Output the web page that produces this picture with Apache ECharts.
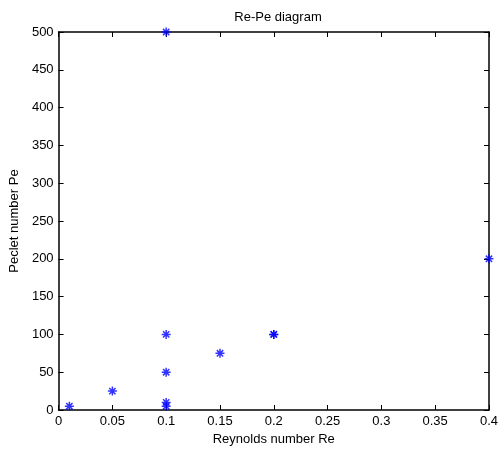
<!DOCTYPE html>
<html>
<head>
<meta charset="utf-8">
<script src="https://cdn.jsdelivr.net/npm/echarts@6/dist/echarts.min.js"></script>
<style>
  html, body { margin: 0; padding: 0; background: #fff; }
  #chart { width: 501px; height: 451px; }
</style>
</head>
<body>
<div id="chart"></div>
<script>
// Measured flow conditions: Reynolds number vs Peclet number
const reynolds = [0.01, 0.05, 0.1, 0.1, 0.1, 0.1, 0.1, 0.15, 0.2, 0.2, 0.4];
const peclet   = [5,    25,   500, 100, 50,  10,  5,   75,   100, 100, 200];

const xTicks = { min: 0, max: 0.4, interval: 0.05 };
const yTicks = { min: 0, max: 500, interval: 50 };

const FONT = 'Liberation Sans, Arial, sans-serif';
const BLUE = '#0000ff';

// asterisk marker drawn as stroked path
const starPath = 'path://M0 5 L10 5 M5 0 L5 10 M1.5 1.5 L8.5 8.5 M8.5 1.5 L1.5 8.5';

const points = reynolds.map((r, i) => [r, peclet[i]]);

const axisBase = {
  axisLine: { show: true, onZero: false, lineStyle: { color: '#000', width: 1.5 } },
  axisTick: { show: true, inside: true, length: 5, lineStyle: { color: '#000', width: 1 } },
  splitLine: { show: false },
  axisLabel: { color: '#000', fontFamily: FONT, fontSize: 13 }
};

const chart = echarts.init(document.getElementById('chart'), null, { renderer: 'canvas' });
chart.setOption({
  animation: false,
  backgroundColor: '#fff',
  title: {
    text: 'Re-Pe diagram',
    left: 273,
    top: 6,
    textAlign: 'center',
    textStyle: { color: '#000', fontFamily: FONT, fontSize: 13, fontWeight: 'normal' }
  },
  grid: { left: 56, right: 9, top: 32, bottom: 39, containLabel: false },
  xAxis: [
    Object.assign({}, axisBase, {
      type: 'value', position: 'bottom',
      min: xTicks.min, max: xTicks.max, interval: xTicks.interval,
      name: 'Reynolds number Re', nameLocation: 'middle', nameGap: 23,
      nameTextStyle: { color: '#000', fontFamily: FONT, fontSize: 13 },
      axisLabel: Object.assign({}, axisBase.axisLabel, { margin: 5, formatter: v => String(+v.toFixed(2)) })
    }),
    Object.assign({}, axisBase, {
      type: 'value', position: 'top',
      min: xTicks.min, max: xTicks.max, interval: xTicks.interval,
      axisLabel: { show: false }
    })
  ],
  yAxis: [
    Object.assign({}, axisBase, {
      type: 'value', position: 'left',
      min: yTicks.min, max: yTicks.max, interval: yTicks.interval,
      name: 'Peclet number Pe', nameLocation: 'middle', nameGap: 34,
      nameTextStyle: { color: '#000', fontFamily: FONT, fontSize: 13 },
      axisLabel: Object.assign({}, axisBase.axisLabel, { margin: 5 })
    }),
    Object.assign({}, axisBase, {
      type: 'value', position: 'right',
      min: yTicks.min, max: yTicks.max, interval: yTicks.interval,
      axisLabel: { show: false }
    })
  ],
  series: [{
    type: 'scatter',
    xAxisIndex: 0,
    yAxisIndex: 0,
    clip: false,
    data: points,
    symbol: starPath,
    symbolSize: 9,
    itemStyle: { color: 'rgba(0,0,0,0)', borderColor: BLUE, borderWidth: 1.5 }
  }]
});
</script>
</body>
</html>
